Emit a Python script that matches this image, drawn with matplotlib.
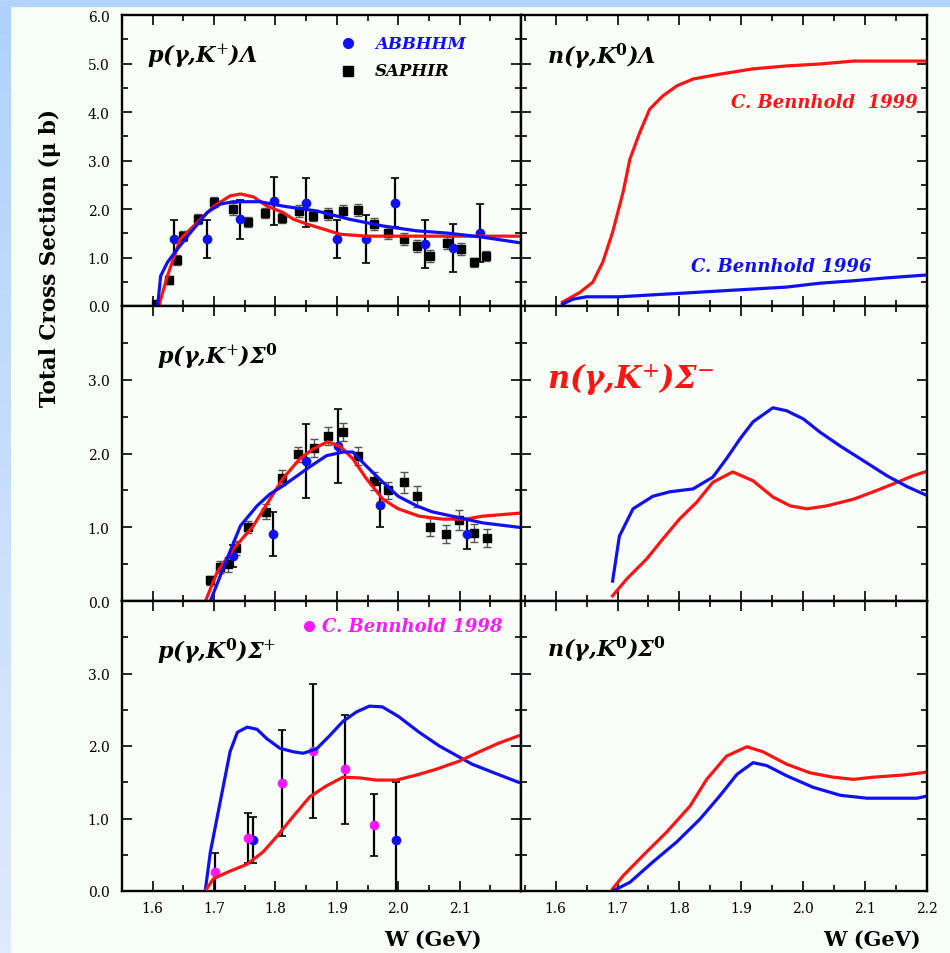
import numpy as np
import matplotlib.pyplot as plt
from matplotlib.colors import LinearSegmentedColormap

plt.rcParams['font.family'] = 'DejaVu Serif'
plt.rcParams['mathtext.fontset'] = 'dejavuserif'

RED = '#ff1414'
BLUE = '#1010f0'
MAG = '#ff18ff'

# p(gamma,K+)Lambda
tl_w_red = [1.61, 1.624, 1.645, 1.678, 1.70, 1.726, 1.743, 1.764, 1.786, 1.812, 1.829, 1.851, 1.877, 1.905, 1.948, 2.0, 2.055, 2.11, 2.2]
tl_red = [0, 0.62, 1.38, 1.79, 2.06, 2.27, 2.31, 2.25, 2.06, 1.93, 1.79, 1.69, 1.59, 1.48, 1.44, 1.44, 1.44, 1.44, 1.44]
tl_w_blue = [1.608, 1.613, 1.624, 1.64, 1.662, 1.689, 1.71, 1.731, 1.775, 1.812, 1.867, 1.92, 1.975, 2.03, 2.083, 2.137, 2.2]
tl_blue = [0, 0.62, 0.9, 1.17, 1.52, 1.93, 2.1, 2.15, 2.15, 2.06, 1.96, 1.79, 1.65, 1.55, 1.5, 1.42, 1.3]
tl_abb_w = [1.634, 1.689, 1.743, 1.797, 1.85, 1.90, 1.948, 1.995, 2.044, 2.089, 2.133]
tl_abb = [1.38, 1.38, 1.79, 2.17, 2.13, 1.38, 1.38, 2.13, 1.28, 1.2, 1.51]
tl_abb_err = [0.4, 0.4, 0.4, 0.5, 0.5, 0.4, 0.5, 0.5, 0.5, 0.5, 0.6]
tl_sap_w = [1.605, 1.626, 1.639, 1.65, 1.673, 1.70, 1.731, 1.756, 1.783, 1.811, 1.838, 1.861,
            1.885, 1.91, 1.935, 1.96, 1.984, 2.009, 2.03, 2.052, 2.08, 2.102, 2.123, 2.143]
tl_sap = [0.04, 0.54, 0.95, 1.44, 1.79, 2.14, 2.0, 1.73, 1.92, 1.81, 1.96, 1.86,
          1.9, 1.96, 1.98, 1.69, 1.5, 1.38, 1.24, 1.03, 1.3, 1.18, 0.9, 1.03]
tl_sap_err = [0.05, 0.08, 0.1, 0.1, 0.1, 0.1, 0.12, 0.1, 0.1, 0.1, 0.12, 0.1,
              0.12, 0.12, 0.12, 0.12, 0.12, 0.12, 0.12, 0.12, 0.12, 0.12, 0.1, 0.1]

# n(gamma,K0)Lambda
tr_w_red = [1.611, 1.639, 1.66, 1.676, 1.692, 1.709, 1.72, 1.736, 1.752, 1.773, 1.796, 1.822, 1.865, 1.919, 1.973, 2.027, 2.081, 2.2]
tr_red = [0.08, 0.28, 0.49, 0.9, 1.52, 2.35, 3.03, 3.58, 4.06, 4.33, 4.54, 4.68, 4.78, 4.89, 4.95, 4.99, 5.05, 5.05]
tr_w_blue = [1.611, 1.628, 1.65, 1.703, 1.757, 1.812, 1.865, 1.919, 1.973, 2.027, 2.081, 2.135, 2.2]
tr_blue = [0.04, 0.14, 0.19, 0.19, 0.23, 0.27, 0.31, 0.35, 0.39, 0.47, 0.52, 0.58, 0.64]

# p(gamma,K+)Sigma0
ml_w_red = [1.686, 1.705, 1.731, 1.764, 1.791, 1.812, 1.84, 1.861, 1.885, 1.905, 1.926, 1.948, 1.975, 2.0, 2.034, 2.072, 2.11, 2.137, 2.196]
ml_red = [0, 0.39, 0.7, 1.02, 1.38, 1.66, 1.93, 2.06, 2.16, 2.1, 1.93, 1.66, 1.38, 1.25, 1.15, 1.11, 1.11, 1.15, 1.19]
ml_w_blue = [1.694, 1.721, 1.743, 1.77, 1.791, 1.812, 1.829, 1.856, 1.883, 1.91, 1.926, 1.948, 1.975, 2.0, 2.03, 2.055, 2.11, 2.137, 2.196]
ml_blue = [0, 0.57, 1.02, 1.29, 1.45, 1.56, 1.66, 1.82, 1.97, 2.02, 2.02, 1.83, 1.61, 1.42, 1.29, 1.21, 1.11, 1.06, 1.0]
ml_abb_w = [1.731, 1.796, 1.85, 1.902, 1.971, 2.112]
ml_abb = [0.61, 0.91, 1.9, 2.1, 1.3, 0.91]
ml_abb_err = [0.15, 0.3, 0.5, 0.5, 0.3, 0.2]
ml_sap_w = [1.693, 1.709, 1.722, 1.735, 1.756, 1.784, 1.81, 1.836, 1.862, 1.886, 1.91,
            1.934, 1.96, 1.984, 2.009, 2.03, 2.052, 2.078, 2.099, 2.124, 2.145]
ml_sap = [0.28, 0.46, 0.5, 0.72, 1.0, 1.21, 1.67, 1.99, 2.07, 2.24, 2.29,
          1.97, 1.63, 1.5, 1.61, 1.42, 1.0, 0.91, 1.1, 0.92, 0.85]
ml_sap_err = [0.06, 0.08, 0.1, 0.1, 0.08, 0.1, 0.1, 0.1, 0.12, 0.12, 0.12,
              0.12, 0.12, 0.12, 0.14, 0.14, 0.12, 0.12, 0.14, 0.12, 0.12]

# n(gamma,K+)Sigma-
mr_w_red = [1.692, 1.715, 1.747, 1.773, 1.8, 1.828, 1.854, 1.886, 1.919, 1.951, 1.979, 2.006, 2.038, 2.081, 2.113, 2.146, 2.178, 2.2]
mr_red = [0.07, 0.3, 0.57, 0.84, 1.11, 1.34, 1.61, 1.75, 1.63, 1.41, 1.29, 1.25, 1.29, 1.38, 1.48, 1.59, 1.7, 1.76]
mr_w_blue = [1.692, 1.703, 1.725, 1.757, 1.784, 1.822, 1.854, 1.876, 1.898, 1.919, 1.951, 1.973, 2.0, 2.027, 2.06, 2.092, 2.135, 2.168, 2.2]
mr_blue = [0.27, 0.88, 1.25, 1.42, 1.48, 1.52, 1.68, 1.93, 2.2, 2.43, 2.62, 2.58, 2.47, 2.29, 2.1, 1.93, 1.7, 1.55, 1.43]

# p(gamma,K0)Sigma+
bl_w_blue = [1.686, 1.694, 1.71, 1.726, 1.738, 1.754, 1.77, 1.786, 1.807, 1.829, 1.845, 1.867,
             1.888, 1.91, 1.932, 1.953, 1.974, 2.0, 2.034, 2.067, 2.099, 2.12, 2.153, 2.196]
bl_blue = [0.03, 0.54, 1.23, 1.92, 2.19, 2.26, 2.23, 2.1, 1.97, 1.92, 1.9, 1.96,
           2.14, 2.34, 2.47, 2.55, 2.54, 2.41, 2.19, 2.0, 1.85, 1.75, 1.64, 1.5]
bl_w_red = [1.688, 1.699, 1.722, 1.754, 1.78, 1.803, 1.829, 1.856, 1.883, 1.91, 1.937, 1.964, 1.997, 2.03, 2.062, 2.099, 2.132, 2.164, 2.196]
bl_red = [0.03, 0.17, 0.26, 0.37, 0.54, 0.76, 1.03, 1.3, 1.45, 1.57, 1.56, 1.53, 1.53, 1.6, 1.68, 1.79, 1.92, 2.04, 2.14]
bl_ben_w = [1.702, 1.756, 1.81, 1.861, 1.913, 1.961]
bl_ben = [0.26, 0.73, 1.49, 1.93, 1.68, 0.91]
bl_ben_err = [0.27, 0.35, 0.73, 0.92, 0.75, 0.43]
bl_abb_w = [1.764, 1.997]
bl_abb = [0.7, 0.7]
bl_abb_err = [0.32, 0.8]

# n(gamma,K0)Sigma0
br_w_red = [1.692, 1.709, 1.747, 1.779, 1.817, 1.844, 1.876, 1.909, 1.935, 1.973, 2.011, 2.048, 2.081, 2.113, 2.162, 2.2]
br_red = [0.03, 0.21, 0.54, 0.81, 1.17, 1.54, 1.86, 1.99, 1.92, 1.75, 1.63, 1.57, 1.54, 1.57, 1.6, 1.64]
br_w_blue = [1.692, 1.72, 1.757, 1.796, 1.833, 1.865, 1.893, 1.919, 1.941, 1.973, 2.016, 2.06, 2.103, 2.184, 2.2]
br_blue = [0, 0.12, 0.4, 0.68, 0.99, 1.31, 1.61, 1.77, 1.73, 1.59, 1.43, 1.32, 1.28, 1.28, 1.31]

W, H = 950, 954
fig = plt.figure(figsize=(W / 100, H / 100), dpi=100, facecolor='#f7fdf7')

# slide border: flat band on top, fading band down the left side
fig.patches.append(plt.Rectangle((0, 1 - 7 / H), 1, 7 / H, transform=fig.transFigure,
                                 color='#b2d4fb', zorder=0))
band = fig.add_axes([0, 0, 11 / W, 1 - 7 / H])
band.imshow(np.linspace(0, 1, 100).reshape(-1, 1), aspect='auto',
            cmap=LinearSegmentedColormap.from_list('band', ['#b0d2fa', '#dfeafc']))
band.set_axis_off()


def panel(x0, x1, y0, y1, xlim, ytop):
    ax = fig.add_axes([x0 / W, 1 - y1 / H, (x1 - x0) / W, (y1 - y0) / H])
    ax.set_facecolor('#f9fef9')
    ax.set_xlim(*xlim)
    ax.set_ylim(0, ytop)
    ax.set_xticks(np.arange(1.6, 2.21, 0.1))
    ax.set_xticks(np.arange(1.55, 2.21, 0.05), minor=True)
    ax.set_yticks(np.arange(0, ytop + 0.01, 1.0))
    ax.set_yticks(np.arange(0, ytop + 0.01, 0.5), minor=True)
    ax.tick_params(which='both', direction='in', top=True, right=True, width=1.2,
                   labelbottom=False, labelleft=False, labelsize=10, colors='black')
    ax.tick_params(which='major', length=7)
    ax.tick_params(which='minor', length=4)
    for s in ax.spines.values():
        s.set_linewidth(1.7)
    return ax


ax_tl = panel(122, 521, 16, 307, (1.551, 2.198), 6)
ax_tr = panel(521, 927, 16, 307, (1.544, 2.2), 6)
ax_ml = panel(122, 521, 307, 602, (1.551, 2.198), 4)
ax_mr = panel(521, 927, 307, 602, (1.544, 2.2), 4)
ax_bl = panel(122, 521, 602, 892, (1.551, 2.198), 4)
ax_br = panel(521, 927, 602, 892, (1.544, 2.2), 4)

for ax, labels in [(ax_tl, ['0.0', '1.0', '2.0', '3.0', '4.0', '5.0', '6.0']),
                   (ax_ml, ['0.0', '1.0', '2.0', '3.0', '']),
                   (ax_bl, ['0.0', '1.0', '2.0', '3.0', ''])]:
    ax.set_yticklabels(labels)
    ax.tick_params(axis='y', labelleft=True, pad=9)

ax_bl.set_xticklabels(['1.6', '1.7', '1.8', '1.9', '2.0', '2.1', ''])
ax_br.set_xticklabels(['1.6', '1.7', '1.8', '1.9', '2.0', '2.1', '2.2'])
for ax in (ax_bl, ax_br):
    ax.tick_params(axis='x', labelbottom=True, pad=7)


def saphir(ax, w, v, e):
    ax.errorbar(w, v, yerr=e, fmt='s', color='black', ms=6, ecolor='#555555',
                elinewidth=1, capsize=3, capthick=1, zorder=2)


def abbhhm(ax, w, v, e, color=BLUE):
    ax.errorbar(w, v, yerr=e, fmt='o', color=color, ms=6, ecolor='black',
                elinewidth=1.6, capsize=3, capthick=1.2, zorder=2)


saphir(ax_tl, tl_sap_w, tl_sap, tl_sap_err)
abbhhm(ax_tl, tl_abb_w, tl_abb, tl_abb_err)
ax_tl.plot(tl_w_red, tl_red, color=RED, lw=2.3, zorder=3)
ax_tl.plot(tl_w_blue, tl_blue, color=BLUE, lw=2.3, zorder=3)

ax_tr.plot(tr_w_red, tr_red, color=RED, lw=2.3)
ax_tr.plot(tr_w_blue, tr_blue, color=BLUE, lw=2.3)

saphir(ax_ml, ml_sap_w, ml_sap, ml_sap_err)
abbhhm(ax_ml, ml_abb_w, ml_abb, ml_abb_err)
ax_ml.plot(ml_w_red, ml_red, color=RED, lw=2.3, zorder=3)
ax_ml.plot(ml_w_blue, ml_blue, color=BLUE, lw=2.3, zorder=3)

ax_mr.plot(mr_w_red, mr_red, color=RED, lw=2.3)
ax_mr.plot(mr_w_blue, mr_blue, color=BLUE, lw=2.3)

ax_bl.plot(bl_w_blue, bl_blue, color=BLUE, lw=2.3, zorder=3)
ax_bl.plot(bl_w_red, bl_red, color=RED, lw=2.3, zorder=3)
abbhhm(ax_bl, bl_abb_w, bl_abb, bl_abb_err)
abbhhm(ax_bl, bl_ben_w, bl_ben, bl_ben_err, color=MAG)

ax_br.plot(br_w_red, br_red, color=RED, lw=2.3)
ax_br.plot(br_w_blue, br_blue, color=BLUE, lw=2.3)

# reaction labels
title_kw = dict(transform=fig.transFigure, fontsize=16, fontweight='bold', fontstyle='italic', va='center')
fig.text(147 / W, 1 - 57 / H, 'p(γ,K$^{+}$)Λ', **title_kw)
fig.text(547 / W, 1 - 57 / H, 'n(γ,K$^{\\mathbf{0}}$)Λ', **title_kw)
fig.text(157 / W, 1 - 357 / H, 'p(γ,K$^{+}$)Σ$^{\\mathbf{0}}$', **title_kw)
fig.text(157 / W, 1 - 652 / H, 'p(γ,K$^{\\mathbf{0}}$)Σ$^{+}$', **title_kw)
fig.text(547 / W, 1 - 650 / H, 'n(γ,K$^{\\mathbf{0}}$)Σ$^{\\mathbf{0}}$', **title_kw)
fig.text(547 / W, 1 - 380 / H, 'n(γ,K$^{+}$)Σ$^{-}$', transform=fig.transFigure, fontsize=22,
         fontweight='bold', fontstyle='italic', va='center', color=RED)

# legends
leg_kw = dict(fontsize=12, fontweight='bold', fontstyle='italic', va='center')
ax_tl.plot([1.918], [5.42], 'o', color=BLUE, ms=7)
ax_tl.plot([1.918], [4.85], 's', color='black', ms=7)
ax_tl.text(1.962, 5.42, 'ABBHHM', color=BLUE, **leg_kw)
ax_tl.text(1.962, 4.85, 'SAPHIR', color='black', **leg_kw)
ax_bl.plot([1.854], [3.65], 'o', color=MAG, ms=7)
ax_bl.text(1.876, 3.65, 'C. Bennhold 1998', color=MAG, fontsize=13, fontweight='bold',
           fontstyle='italic', va='center')
ax_tr.text(2.185, 4.2, 'C. Bennhold  1999', color=RED, fontsize=13, fontweight='bold',
           fontstyle='italic', va='center', ha='right')
ax_tr.text(2.11, 0.82, 'C. Bennhold 1996', color=BLUE, fontsize=13, fontweight='bold',
           fontstyle='italic', va='center', ha='right')

# axis titles
fig.text(50 / W, 1 - 258 / H, 'Total Cross Section (μ b)', rotation=90, fontsize=15.5,
         fontweight='bold', ha='center', va='center')
fig.text(433 / W, 1 - 940 / H, 'W (GeV)', fontsize=15, fontweight='bold', ha='center', va='center')
fig.text(872 / W, 1 - 940 / H, 'W (GeV)', fontsize=15, fontweight='bold', ha='center', va='center')

fig.savefig('out.png', dpi=100, facecolor=fig.get_facecolor())
